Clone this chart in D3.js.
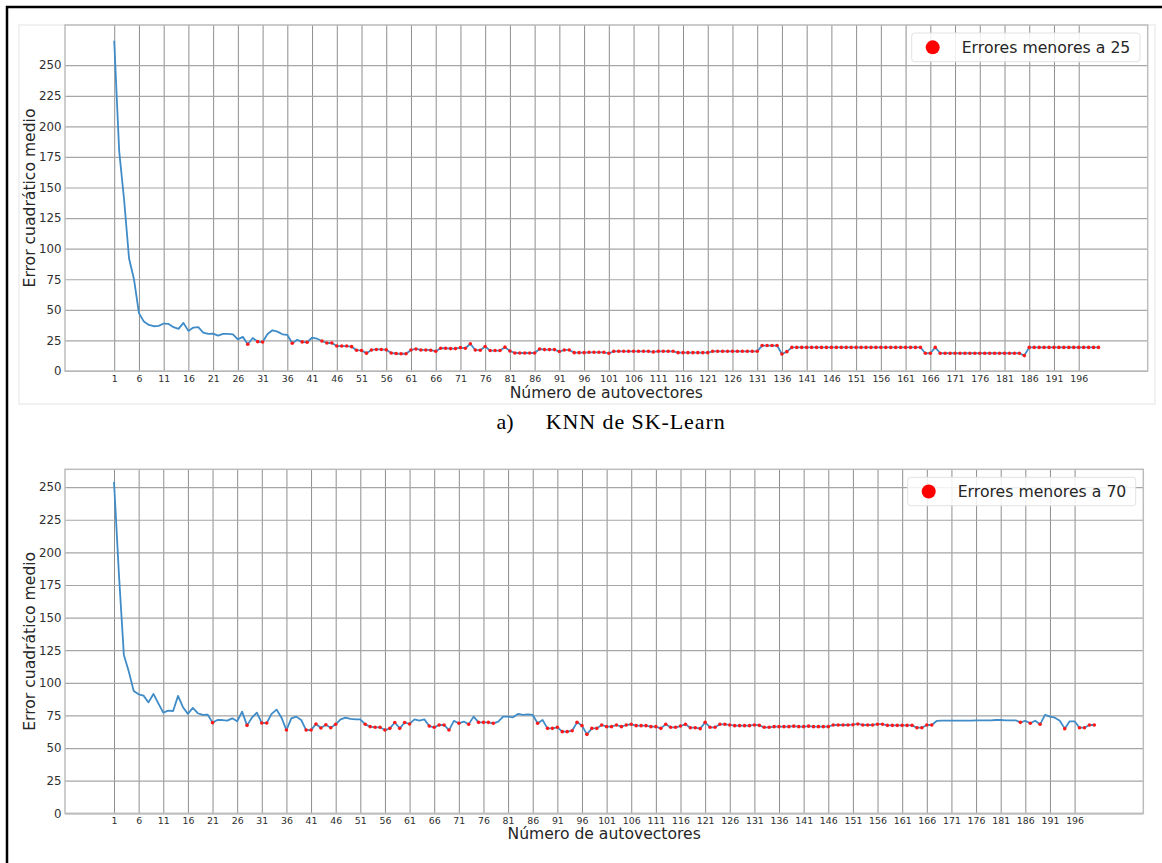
<!DOCTYPE html>
<html><head><meta charset="utf-8">
<script src="https://cdn.jsdelivr.net/npm/d3@7"></script>
<style>
html,body{margin:0;padding:0;background:#fff;}
svg{display:block;}
</style></head><body>
<svg id="fig" width="1162" height="863"></svg>
<script>
// Number of eigenvectors used (x axis)
const autovectores = [
  1,2,3,4,5,6,7,8,9,10,11,12,13,14,15,16,17,18,19,20,
  21,22,23,24,25,26,27,28,29,30,31,32,33,34,35,36,37,38,39,40,
  41,42,43,44,45,46,47,48,49,50,51,52,53,54,55,56,57,58,59,60,
  61,62,63,64,65,66,67,68,69,70,71,72,73,74,75,76,77,78,79,80,
  81,82,83,84,85,86,87,88,89,90,91,92,93,94,95,96,97,98,99,100,
  101,102,103,104,105,106,107,108,109,110,111,112,113,114,115,116,117,118,119,120,
  121,122,123,124,125,126,127,128,129,130,131,132,133,134,135,136,137,138,139,140,
  141,142,143,144,145,146,147,148,149,150,151,152,153,154,155,156,157,158,159,160,
  161,162,163,164,165,166,167,168,169,170,171,172,173,174,175,176,177,178,179,180,
  181,182,183,184,185,186,187,188,189,190,191,192,193,194,195,196,197,198,199,200
];

// Mean squared error, KNN from scikit-learn
const errorKnnSklearn = [
  270, 180, 140, 92, 75, 47.3, 40.4, 37.7, 36.6, 36.9,
  38.8, 38.5, 35.8, 34.4, 39.3, 32.8, 35.5, 35.8, 31.4, 30.3,
  30.6, 28.9, 30.3, 30.3, 30.0, 25.9, 27.9, 21.9, 27.0, 24.0,
  23.7, 30.3, 33.3, 32.2, 30.0, 29.5, 22.7, 25.5, 23.8, 23.5,
  27.2, 26.4, 24.5, 22.9, 22.9, 20.4, 20.4, 20.4, 19.9, 17.0,
  16.8, 14.6, 17.2, 17.6, 17.6, 17.3, 14.7, 14.3, 14.1, 14.1,
  17.2, 18.0, 17.2, 17.2, 17.0, 16.2, 18.6, 18.6, 18.3, 18.3,
  19.1, 18.6, 22.3, 17.2, 17.0, 20.0, 16.7, 16.7, 16.7, 19.5,
  16.4, 14.7, 14.7, 14.7, 14.7, 14.7, 18.0, 17.5, 17.5, 17.5,
  15.9, 17.2, 17.2, 15.0, 15.0, 15.0, 15.3, 15.3, 15.3, 15.3,
  14.5, 16.1, 16.1, 16.1, 16.1, 16.1, 16.1, 16.1, 16.1, 15.6,
  16.1, 16.1, 16.1, 16.1, 15.0, 15.0, 15.0, 15.0, 15.0, 15.0,
  15.0, 16.1, 16.1, 16.1, 16.1, 16.1, 16.1, 16.1, 16.1, 16.1,
  16.1, 20.8, 20.8, 20.8, 20.8, 13.9, 15.8, 19.3, 19.3, 19.3,
  19.3, 19.3, 19.3, 19.3, 19.3, 19.3, 19.3, 19.3, 19.3, 19.3,
  19.3, 19.3, 19.3, 19.3, 19.3, 19.3, 19.3, 19.3, 19.3, 19.3,
  19.3, 19.3, 19.3, 19.3, 14.5, 14.5, 19.3, 14.5, 14.5, 14.5,
  14.5, 14.5, 14.5, 14.5, 14.5, 14.5, 14.5, 14.5, 14.5, 14.5,
  14.5, 14.5, 14.5, 14.5, 12.6, 19.3, 19.3, 19.3, 19.3, 19.3,
  19.3, 19.3, 19.3, 19.3, 19.3, 19.3, 19.3, 19.3, 19.3, 19.3
];

// Mean squared error, second model
const errorKnnSegundo = [
  254, 183, 121.4, 108.6, 93.8, 91.2, 90.2, 85, 91.5, 84.3,
  77.2, 78.7, 78.4, 90, 81.3, 76.2, 80.8, 76.7, 75.4, 75.7,
  69.5, 71.5, 71.5, 71, 72.8, 70.5, 77.9, 67.4, 73.3, 77.2,
  69.2, 69.2, 76.2, 79.5, 73.3, 63.8, 72.8, 74.1, 71.5, 63.8,
  63.8, 68.5, 65.4, 67.9, 65.6, 68.2, 72, 73.3, 72.3, 72,
  72, 68.2, 66.4, 65.9, 65.9, 63.8, 65.1, 69.6, 65.1, 69.6,
  68.5, 72, 71, 72, 66.9, 65.9, 67.7, 67.7, 63.8, 70.8,
  69, 70.3, 68.2, 74.1, 69.7, 69.7, 69.7, 69, 70.3, 74.1,
  74.1, 73.6, 76.2, 75.4, 75.9, 75.4, 69, 71.5, 65.1, 65.1,
  65.9, 62.6, 62.6, 63.3, 69.7, 67.2, 60.5, 65.1, 65.1, 67.7,
  66.4, 66.4, 67.7, 66.4, 67.7, 68.2, 67.2, 67.2, 67.2, 66.4,
  66.4, 65.1, 68.2, 65.9, 65.9, 66.9, 68.2, 65.6, 65.6, 64.9,
  69.7, 65.9, 65.9, 68.2, 68.2, 67.7, 67.2, 67.2, 67.2, 67.2,
  67.7, 67.4, 65.9, 65.9, 66.4, 66.4, 66.4, 66.4, 66.8, 66.4,
  66.4, 66.8, 66.4, 66.4, 66.4, 66.4, 67.7, 67.7, 67.7, 67.7,
  67.9, 68.5, 67.7, 67.7, 67.7, 68.3, 68.3, 67.4, 67.4, 67.4,
  67.4, 67.4, 67.4, 65.6, 65.6, 67.7, 67.7, 70.8, 71, 71,
  71, 71, 71, 71, 71, 71.3, 71.3, 71.3, 71.3, 71.5,
  71.5, 71.3, 71.3, 71.3, 69.7, 70.8, 69, 71, 68.2, 75.4,
  74.1, 73.3, 71, 64.9, 70.5, 70.5, 65.6, 65.6, 67.7, 67.7
];

const xTickValues = [1,6,11,16,21,26,31,36,41,46,51,56,61,66,71,76,81,86,91,96,
  101,106,111,116,121,126,131,136,141,146,151,156,161,166,171,176,181,186,191,196];
const yTickValues = [0,25,50,75,100,125,150,175,200,225,250];

const umbralSuperior = 25;
const umbralInferior = 70;

const etiquetaX = "Número de autovectores";
const etiquetaY = "Error cuadrático medio";
const leyendaSuperior = "Errores menores a " + umbralSuperior;
const leyendaInferior = "Errores menores a " + umbralInferior;
const subtitulo = ["a)", "KNN de SK-Learn"];

const svg = d3.select("#fig");
const FONT = "'DejaVu Sans', sans-serif";
const SERIF = "'Liberation Serif', 'Times New Roman', serif";

// soft edge of the first embedded figure
svg.append("rect")
  .attr("x", 19).attr("y", 25).attr("width", 1136).attr("height", 379)
  .attr("fill", "none").attr("stroke", "#f1f1f1").attr("stroke-width", 2);

function panel(cfg) {
  const {values, threshold, legendText, box, xLabelY, legendBox} = cfg;
  const w = box.right - box.left, h = box.bottom - box.top;
  const data = autovectores.map((n, i) => ({n, v: values[i]}));

  const n0 = d3.min(autovectores), n1 = d3.max(autovectores);
  const mx = (n1 - n0) * 0.05;
  const vmax = d3.max(values), vmin = d3.min(values);
  const x = d3.scaleLinear().domain([n0 - mx, n1 + mx]).range([0, w]);
  const y = d3.scaleLinear().domain([0, vmax + (vmax - vmin) * 0.05]).range([h, 0]);

  const g = svg.append("g").attr("transform", `translate(${box.left},${box.top})`);

  // grid
  const gx = g.append("g").attr("transform", `translate(0,${h})`)
    .call(d3.axisBottom(x).tickValues(xTickValues).tickSize(-h).tickFormat(""));
  gx.select(".domain").remove();
  gx.selectAll("line").attr("stroke", "#8e8e8e").attr("stroke-width", 1);

  const gy = g.append("g")
    .call(d3.axisLeft(y).tickValues(yTickValues).tickSize(-w).tickFormat(""));
  gy.select(".domain").remove();
  gy.selectAll("line").attr("stroke", "#a6a6a6").attr("stroke-width", 1.2);

  // frame
  g.append("rect").attr("width", w).attr("height", h)
    .attr("fill", "none").attr("stroke", "#bdbdbd").attr("stroke-width", 1.5);

  // tick labels
  const ly = g.append("g").call(d3.axisLeft(y).tickValues(yTickValues).tickSize(0).tickPadding(3.5));
  ly.select(".domain").remove();
  ly.selectAll("text").attr("font-family", FONT).attr("font-size", 11.8).attr("fill", "#2e2e2e");

  const lx = g.append("g").attr("transform", `translate(0,${h})`)
    .call(d3.axisBottom(x).tickValues(xTickValues).tickSize(0).tickPadding(4.4));
  lx.select(".domain").remove();
  lx.selectAll("text").attr("font-family", FONT).attr("font-size", 9.4).attr("fill", "#2e2e2e");

  // axis titles
  g.append("text")
    .attr("transform", `translate(${29 - box.left},${h / 2}) rotate(-90)`)
    .attr("text-anchor", "middle").attr("dy", "0.36em")
    .attr("font-family", FONT).attr("font-size", 15.6).attr("fill", "#262626")
    .text(etiquetaY);
  g.append("text")
    .attr("x", w / 2).attr("y", xLabelY - box.top)
    .attr("text-anchor", "middle")
    .attr("font-family", FONT).attr("font-size", 15.6).attr("fill", "#262626")
    .text(etiquetaX);

  // series
  const clipId = "clip" + Math.round(box.top);
  g.append("clipPath").attr("id", clipId).append("rect").attr("width", w).attr("height", h);
  const plot = g.append("g").attr("clip-path", `url(#${clipId})`);
  plot.append("path").datum(data)
    .attr("fill", "none").attr("stroke", "#3f8cc8").attr("stroke-width", 1.8)
    .attr("stroke-linejoin", "round")
    .attr("d", d3.line().x(d => x(d.n)).y(d => y(d.v)));
  plot.selectAll("circle.low").data(data.filter(d => d.v < threshold))
    .join("circle").attr("class", "low")
    .attr("cx", d => x(d.n)).attr("cy", d => y(d.v)).attr("r", 1.8)
    .attr("fill", "#ff1a1a");

  // legend
  const lg = svg.append("g");
  lg.append("rect")
    .attr("x", legendBox.x).attr("y", legendBox.y)
    .attr("width", legendBox.w).attr("height", legendBox.h)
    .attr("rx", 3).attr("fill", "#fff").attr("fill-opacity", 0.85)
    .attr("stroke", "#e2e2e2").attr("stroke-width", 1);
  lg.append("circle")
    .attr("cx", legendBox.x + 21).attr("cy", legendBox.y + legendBox.h / 2).attr("r", 7)
    .attr("fill", "#ff0000");
  lg.append("text")
    .attr("x", legendBox.x + 50).attr("y", legendBox.y + legendBox.h / 2)
    .attr("dy", "0.36em")
    .attr("font-family", FONT).attr("font-size", 15.7).attr("fill", "#262626")
    .text(legendText);
}

panel({
  values: errorKnnSklearn, threshold: umbralSuperior, legendText: leyendaSuperior,
  box: {left: 65, top: 25, right: 1147.7, bottom: 371},
  xLabelY: 397.5,
  legendBox: {x: 911.7, y: 33, w: 228.3, h: 28.7}
});

panel({
  values: errorKnnSegundo, threshold: umbralInferior, legendText: leyendaInferior,
  box: {left: 65, top: 469.3, right: 1143.3, bottom: 813.3},
  xLabelY: 839,
  legendBox: {x: 907.7, y: 477.3, w: 228, h: 28.4}
});

// caption under the first figure
svg.append("text").attr("x", 496.5).attr("y", 429)
  .attr("font-family", SERIF).attr("font-size", 22)
  .attr("fill", "#000").text(subtitulo[0]);
svg.append("text").attr("x", 545.7).attr("y", 429)
  .attr("font-family", SERIF).attr("font-size", 22)
  .attr("textLength", 179).attr("lengthAdjust", "spacing")
  .attr("fill", "#000").text(subtitulo[1]);

// page frame
svg.append("path").attr("d", "M7,863 V7 H1162")
  .attr("fill", "none").attr("stroke", "#000").attr("stroke-width", 2.5);
</script>
</body></html>
